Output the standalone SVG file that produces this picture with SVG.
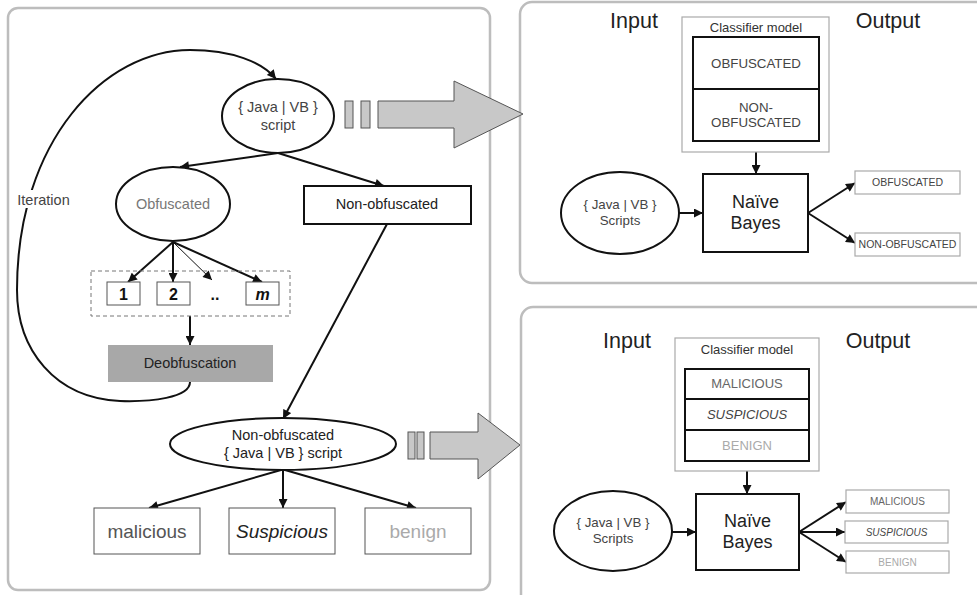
<svg xmlns="http://www.w3.org/2000/svg" width="977" height="595" viewBox="0 0 977 595">
<style>
.panel{fill:#fff;stroke:#bdbdbd;stroke-width:2.5}
.node{fill:#fff;stroke:#111;stroke-width:2}
.thin{fill:#fff;stroke:#555;stroke-width:1}
.light{fill:#fff;stroke:#aaa;stroke-width:1.2}
.edge{fill:none;stroke:#111;stroke-width:2}
.big{fill:#c8c8c8;stroke:#555;stroke-width:1}
text{font-family:"Liberation Sans",Arial,sans-serif;text-anchor:middle;fill:#444}
.t14{font-size:14.5px}
.t13{font-size:13.3px}
.cm{font-size:13px;fill:#333}
.t10{font-size:10.5px}
.io{font-size:21.5px;fill:#222}
.nb{font-size:18px;fill:#222}
.res{font-size:19px}
</style>
<defs>
<marker id="a" viewBox="0 0 10 10" refX="10" refY="5" markerWidth="10" markerHeight="9" orient="auto" markerUnits="userSpaceOnUse">
<path d="M0,0 L10,5 L0,10 z" fill="#111"/>
</marker>
</defs>
<rect width="977" height="595" fill="#fff"/>
<!-- panels -->
<rect id="panel-left" class="panel" x="8" y="8" width="482" height="582" rx="10"/>
<rect id="panel-top" class="panel" x="520" y="2" width="470" height="281" rx="12"/>
<rect id="panel-bottom" class="panel" x="521" y="307" width="470" height="300" rx="12"/>

<!-- big arrows -->
<g id="big-arrow-1">
<rect class="big" x="345" y="101" width="8" height="27"/>
<rect class="big" x="361" y="101" width="9" height="27"/>
<path class="big" d="M378,101 L454,101 L454,81 L523,114 L454,148 L454,128 L378,128 Z"/>
</g>
<g id="big-arrow-2">
<rect class="big" x="408" y="432" width="7" height="27"/>
<rect class="big" x="417" y="432" width="7" height="27"/>
<path class="big" d="M430,432 L478,432 L478,413 L520,445 L478,479 L478,459 L430,459 Z"/>
</g>

<!-- connectors -->
<g id="connectors">
<path class="edge" marker-end="url(#a)" d="M190,382 C190,398 150,402 120,401 C55,398 17,350 17,290 C17,140 105,50 190,50 C232,50 262,62 276,79"/>
<path class="edge" marker-end="url(#a)" d="M278,153 L180,167"/>
<path class="edge" marker-end="url(#a)" d="M278,153 L384,186"/>
<path class="edge" marker-end="url(#a)" d="M173,242 L128,282"/>
<path class="edge" marker-end="url(#a)" d="M173,242 L173,282"/>
<path class="edge" style="stroke-width:1" marker-end="url(#a)" d="M173,242 L212,280"/>
<path class="edge" marker-end="url(#a)" d="M173,242 L262,282"/>
<path class="edge" marker-end="url(#a)" d="M190,316 L190,345"/>
<path class="edge" marker-end="url(#a)" d="M387,224 L283,419"/>
<path class="edge" marker-end="url(#a)" d="M281,470 L149,508"/>
<path class="edge" marker-end="url(#a)" d="M283,470 L283,508"/>
<path class="edge" marker-end="url(#a)" d="M285,470 L416,508"/>
<!-- top right -->
<path class="edge" marker-end="url(#a)" d="M756,141 L756,174"/>
<path class="edge" marker-end="url(#a)" d="M679,213 L703,213"/>
<path class="edge" marker-end="url(#a)" d="M808,213 L855,183"/>
<path class="edge" marker-end="url(#a)" d="M808,213 L855,243"/>
<!-- bottom right -->
<path class="edge" marker-end="url(#a)" d="M747,461 L747,494"/>
<path class="edge" marker-end="url(#a)" d="M672,532 L696,532"/>
<path class="edge" marker-end="url(#a)" d="M799,532 L846,502"/>
<path class="edge" marker-end="url(#a)" d="M799,532 L845,532"/>
<path class="edge" marker-end="url(#a)" d="M799,532 L846,562"/>
</g>

<!-- left panel nodes -->
<g id="iteration-label">
<rect x="15" y="190" width="57" height="18" fill="#fff"/>
<text x="43.5" y="205" class="t14">Iteration</text>
</g>
<g id="script">
<ellipse class="node" cx="278" cy="116" rx="56" ry="37"/>
<text x="278" y="112" class="t14">{ Java | VB }</text>
<text x="278" y="130" class="t14">script</text>
</g>
<g id="obfuscated">
<ellipse class="node" cx="173" cy="204" rx="57" ry="37"/>
<text x="173" y="209" class="t14" style="fill:#777">Obfuscated</text>
</g>
<g id="non-obfuscated">
<rect class="node" x="304" y="186" width="167" height="38"/>
<text x="387" y="209" class="t14" style="fill:#222">Non-obfuscated</text>
</g>
<g id="techniques">
<rect x="91" y="271" width="199" height="45" fill="none" stroke="#777" stroke-width="1" stroke-dasharray="4,3"/>
<rect class="thin" x="107" y="282" width="33" height="23"/>
<text x="123.5" y="300" style="font-size:16px;font-weight:bold;fill:#111">1</text>
<rect class="thin" x="157" y="282" width="33" height="23"/>
<text x="173.5" y="300" style="font-size:16px;font-weight:bold;fill:#111">2</text>
<text x="215" y="300" style="font-size:16px;font-weight:bold;fill:#111">..</text>
<rect class="thin" x="246" y="282" width="33" height="23"/>
<text x="262.5" y="300" style="font-size:16px;font-weight:bold;font-style:italic;fill:#111">m</text>
</g>
<g id="deobfuscation">
<rect x="108" y="345" width="165" height="37" fill="#a8a8a8"/>
<text x="190" y="368" class="t14" style="fill:#222">Deobfuscation</text>
</g>
<g id="non-obf-script">
<ellipse class="node" cx="283" cy="444" rx="113" ry="26"/>
<text x="283" y="440" class="t14" style="fill:#222">Non-obfuscated</text>
<text x="283" y="458" class="t14" style="fill:#222">{ Java | VB } script</text>
</g>
<g id="malicious">
<rect class="thin" x="94" y="508" width="106" height="46"/>
<text x="147" y="538" class="res" style="fill:#555">malicious</text>
</g>
<g id="suspicious">
<rect class="thin" x="229" y="508" width="106" height="46"/>
<text x="282" y="538" class="res" style="font-style:italic;fill:#222">Suspicious</text>
</g>
<g id="benign">
<rect class="thin" x="365" y="508" width="106" height="46"/>
<text x="418" y="538" class="res" style="fill:#aaa">benign</text>
</g>

<!-- top right panel -->
<text x="634" y="28" class="io">Input</text>
<text x="888" y="28" class="io">Output</text>
<g id="classifier-1">
<rect class="light" x="682" y="17" width="147" height="135"/>
<text x="756" y="32" class="cm">Classifier model</text>
<rect class="node" x="693" y="37" width="126" height="104"/>
<line x1="693" y1="89" x2="819" y2="89" stroke="#111" stroke-width="2"/>
<text x="756" y="68" class="t13">OBFUSCATED</text>
<text x="756" y="112" class="t13">NON-</text>
<text x="756" y="127" class="t13">OBFUSCATED</text>
</g>
<g id="nb-1">
<rect class="node" x="703" y="174" width="105" height="78"/>
<text x="755.5" y="208" class="nb">Naïve</text>
<text x="755.5" y="229" class="nb">Bayes</text>
</g>
<g id="scripts-1">
<ellipse class="node" cx="620" cy="213" rx="59" ry="41"/>
<text x="620" y="209" class="t13">{ Java | VB }</text>
<text x="620" y="225" class="t13">Scripts</text>
</g>
<g id="out-obf">
<rect class="light" x="855" y="171" width="105" height="23"/>
<text x="907.5" y="186" class="t10">OBFUSCATED</text>
</g>
<g id="out-nonobf">
<rect class="light" x="855" y="233" width="105" height="23"/>
<text x="907.5" y="248" class="t10">NON-OBFUSCATED</text>
</g>

<!-- bottom right panel -->
<text x="627" y="348" class="io">Input</text>
<text x="878" y="348" class="io">Output</text>
<g id="classifier-2">
<rect class="light" x="675" y="338" width="144" height="133"/>
<text x="747" y="354" class="cm">Classifier model</text>
<rect class="node" x="685" y="369" width="124" height="92"/>
<line x1="685" y1="399" x2="809" y2="399" stroke="#111" stroke-width="2"/>
<line x1="685" y1="430" x2="809" y2="430" stroke="#111" stroke-width="2"/>
<text x="747" y="388" style="font-size:13px;fill:#666">MALICIOUS</text>
<text x="747" y="419" style="font-size:13px;font-style:italic">SUSPICIOUS</text>
<text x="747" y="450" style="font-size:13px;fill:#aaa">BENIGN</text>
</g>
<g id="nb-2">
<rect class="node" x="696" y="494" width="103" height="76"/>
<text x="747.5" y="527" class="nb">Naïve</text>
<text x="747.5" y="548" class="nb">Bayes</text>
</g>
<g id="scripts-2">
<ellipse class="node" cx="613" cy="531" rx="59" ry="40"/>
<text x="613" y="527" class="t13">{ Java | VB }</text>
<text x="613" y="543" class="t13">Scripts</text>
</g>
<g id="out-mal">
<rect class="light" x="846" y="490" width="103" height="23"/>
<text x="897.5" y="505" style="font-size:10px;fill:#666">MALICIOUS</text>
</g>
<g id="out-sus">
<rect class="light" x="845" y="521" width="103" height="22"/>
<text x="896.5" y="536" style="font-size:10px;font-style:italic">SUSPICIOUS</text>
</g>
<g id="out-ben">
<rect class="light" x="846" y="551" width="103" height="22"/>
<text x="897.5" y="566" style="font-size:10px;fill:#aaa">BENIGN</text>
</g>
</svg>
